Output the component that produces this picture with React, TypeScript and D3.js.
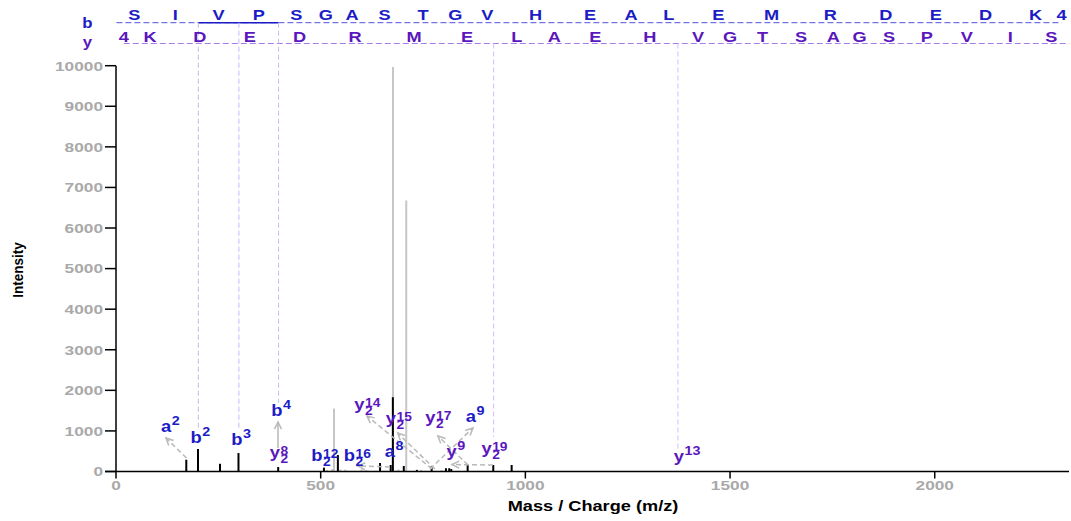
import React from "react";
import * as d3 from "d3";

// ---------- data ----------
const residues = ["S","I","V","P","S","G","A","S","T","G","V","H","E","A","L","E","M","R","D","E","D","K"];
const residueMass: Record<string, number> = {
  G: 57.02146, A: 71.03711, S: 87.03203, P: 97.05276, V: 99.06841, T: 101.04768,
  L: 113.08406, I: 113.08406, D: 115.02694, K: 128.09496, E: 129.04259,
  M: 131.04049, H: 137.05891, R: 156.10111,
};
const precursorCharge = "4";
const bObserved = [2, 3, 4];
const bGuideEnd = [1022, 1072, 1688];
const yObserved = [7, 11];
const yGuideEnd = [850, 554];

const xTicks = [0, 500, 1000, 1500, 2000];
const yTicks = [0, 1000, 2000, 3000, 4000, 5000, 6000, 7000, 8000, 9000, 10000];

// unannotated peaks (grey)
const greyMz = [515, 528, 532.5, 548, 560, 600, 612, 676.6, 690, 709, 745, 795];
const greyIntensity = [40, 60, 1550, 50, 45, 55, 35, 9970, 50, 6680, 40, 35];

// annotated peaks (black)
const blackMz = [171.7, 200.3, 254, 299.2, 396.2, 508, 542, 645, 671, 676.3, 703, 735, 771, 806, 814, 819, 859, 921.6, 966.5];
const blackIntensity = [290, 555, 190, 455, 110, 95, 405, 210, 160, 1830, 135, 40, 135, 80, 80, 60, 160, 160, 160];

// fragment labels
const labelIon = ["a","b","b","b","y","b","b","a","y","y","y","a","y","y","y"];
const labelSup = ["2","2","3","4","8","12","16","8","14","15","17","9","9","19","13"];
const labelSub = ["","","","","2","2","2","","2","2","2","","","2",""];
const labelMz = [135.1, 209.4, 308.9, 406.7, 400.6, 504.4, 583.8, 681.5, 607.0, 684.0, 780.4, 879.3, 832.2, 917.6, 1387.4];
const labelIntensity = [980, 697, 653, 1362, 342, 264, 264, 365, 1525, 1170, 1195, 1231, 355, 428, 234];

// label connectors
const arrowFromMz = [172.2, 395.7, 669.3, 771.9, 779, 859.8, 767, 921];
const arrowFromInt = [333, 579, 111, 62, 62, 160, 62, 160];
const arrowToMz = [122.1, 395.7, 591, 613, 688, 786.5, 872, 820.7];
const arrowToInt = [825, 1220, 136, 1367, 949, 875, 1072, 172];
const arrowDashed = [true, false, true, true, true, true, true, true];

// ---------- styling ----------
const FONT = "'Liberation Sans', Arial, Helvetica, sans-serif";
const B_COLOR = "#1c1cc6";
const Y_COLOR = "#5b17bd";
const ARROW = "#b9b9b9";

function SText(props: {
  x: number; y: number; sx?: number; size: number; anchor?: string; fill: string; children: any;
}) {
  const { x, y, sx = 1, size, anchor = "start", fill, children } = props;
  return (
    <text
      transform={`translate(${x},${y}) scale(${sx},1)`}
      fontSize={size}
      textAnchor={anchor as any}
      fill={fill}
      fontWeight="bold"
      fontFamily={FONT}
    >
      {children}
    </text>
  );
}

export default function App() {
  const W = 1071, H = 521;
  const x = d3.scaleLinear().domain([0, 2328]).range([116, 1069]);
  const y = d3.scaleLinear().domain([0, 10000]).range([471.5, 65.7]);
  const n = residues.length;

  const bIons: number[] = [1.00728];
  residues.forEach((r, i) => bIons.push(bIons[i] + residueMass[r]));
  const yIons: number[] = [19.01784];
  for (let j = 1; j <= n; j++) yIons.push(yIons[j - 1] + residueMass[residues[n - j]]);

  const bRowY = 22.7;
  const yRowY = 43.5;

  const arrowHead = (x1: number, y1: number, x2: number, y2: number) => {
    const a = Math.atan2(y2 - y1, x2 - x1);
    const L = 8, s = 0.45;
    const p1 = [x2 - L * Math.cos(a - s), y2 - L * Math.sin(a - s)];
    const p2 = [x2 - L * Math.cos(a + s), y2 - L * Math.sin(a + s)];
    return `M${p1[0]},${p1[1]}L${x2},${y2}L${p2[0]},${p2[1]}`;
  };

  return (
    <svg width={W} height={H} style={{ position: "absolute", left: 0, top: 0, background: "#fff" }}>
      {/* row labels */}
      <SText x={87.5} y={28} sx={1.2} size={14} anchor="middle" fill={B_COLOR}>b</SText>
      <SText x={87.5} y={47} sx={1.2} size={14} anchor="middle" fill={Y_COLOR}>y</SText>

      {/* sequence rows */}
      <line x1={x(bIons[0])} x2={x(bIons[n])} y1={bRowY} y2={bRowY} stroke="#5252dc" strokeWidth={1} strokeDasharray="6,3" />
      <line x1={x(yIons[0])} x2={x(yIons[n])} y1={yRowY} y2={yRowY} stroke="#a27ee6" strokeWidth={1} strokeDasharray="6,3" />
      {bObserved.slice(1).map((k, i) =>
        bObserved[i] === k - 1 ? (
          <line key={"bs" + k} x1={x(bIons[k - 1])} x2={x(bIons[k])} y1={bRowY} y2={bRowY} stroke={B_COLOR} strokeWidth={1.5} />
        ) : null
      )}
      {bObserved.map((k, i) => (
        <line key={"bg" + k} x1={x(bIons[k])} x2={x(bIons[k])} y1={bRowY} y2={y(bGuideEnd[i])} stroke="#bcbcff" strokeWidth={1} strokeDasharray="5,3" />
      ))}
      {yObserved.map((k, i) => (
        <line key={"yg" + k} x1={x(yIons[k])} x2={x(yIons[k])} y1={yRowY} y2={y(yGuideEnd[i])} stroke="#d6bcff" strokeWidth={1} strokeDasharray="5,3" />
      ))}
      {residues.map((r, i) => (
        <SText key={"br" + i} x={x((bIons[i] + bIons[i + 1]) / 2)} y={20} sx={1.3} size={14} anchor="middle" fill={B_COLOR}>{r}</SText>
      ))}
      <SText x={x(bIons[n])} y={20} sx={1.3} size={14} anchor="middle" fill={B_COLOR}>{precursorCharge}</SText>
      {residues.map((_, j) => (
        <SText key={"yr" + j} x={x((yIons[j] + yIons[j + 1]) / 2)} y={41.5} sx={1.3} size={14} anchor="middle" fill={Y_COLOR}>{residues[n - 1 - j]}</SText>
      ))}
      <SText x={x(yIons[0])} y={41.5} sx={1.3} size={14} anchor="middle" fill={Y_COLOR}>{precursorCharge}</SText>

      {/* peaks */}
      {greyMz.map((m, i) => (
        <line key={"g" + i} x1={x(m)} x2={x(m)} y1={y(0)} y2={y(greyIntensity[i])} stroke="#c6c6c6" strokeWidth={2} />
      ))}
      {blackMz.map((m, i) => (
        <line key={"k" + i} x1={x(m)} x2={x(m)} y1={y(0)} y2={y(blackIntensity[i])} stroke="#000" strokeWidth={2} />
      ))}

      {/* connectors */}
      {arrowFromMz.map((m, i) => {
        const x1 = x(m), y1 = y(arrowFromInt[i]), x2 = x(arrowToMz[i]), y2 = y(arrowToInt[i]);
        return (
          <g key={"a" + i} stroke={ARROW} strokeWidth={1.5} fill="none">
            <line x1={x1} y1={y1} x2={x2} y2={y2} strokeDasharray={arrowDashed[i] ? "5,3" : undefined} />
            <path d={arrowHead(x1, y1, x2, y2)} />
          </g>
        );
      })}

      {/* axes */}
      <line x1={116} x2={116} y1={y(10000)} y2={y(0)} stroke="#000" strokeWidth={1.5} />
      <line x1={105} x2={x(2328)} y1={y(0)} y2={y(0)} stroke="#000" strokeWidth={1.5} />
      {yTicks.map((t) => (
        <g key={"yt" + t}>
          <line x1={105} x2={116} y1={y(t)} y2={y(t)} stroke="#000" strokeWidth={1.5} />
          <SText x={103} y={y(t) + 4.8} sx={1.28} size={13.5} anchor="end" fill="#a9a9a9">{String(t)}</SText>
        </g>
      ))}
      {xTicks.map((t) => (
        <g key={"xt" + t}>
          <line x1={x(t)} x2={x(t)} y1={y(0)} y2={y(0) + 7} stroke="#000" strokeWidth={1.5} />
          <SText x={x(t)} y={490} sx={1.28} size={13.5} anchor="middle" fill="#a9a9a9">{String(t)}</SText>
        </g>
      ))}
      <SText x={593} y={511} sx={1.3} size={14} anchor="middle" fill="#000">Mass / Charge (m/z)</SText>
      <text transform="translate(23,270) scale(1.1,1) rotate(-90)" fontSize={13.5} textAnchor="middle" fontWeight="bold" fontFamily={FONT} fill="#000">Intensity</text>

      {/* fragment labels */}
      {labelIon.map((ion, i) => {
        const jx = x(labelMz[i]);
        const by = y(labelIntensity[i]);
        const col = ion === "y" ? Y_COLOR : B_COLOR;
        const stacked = labelSub[i] !== "";
        return (
          <g key={"l" + i}>
            <SText x={jx} y={by} sx={1.15} size={16} anchor="end" fill={col}>{ion}</SText>
            <SText x={jx + 0.5} y={by - (stacked ? 3 : 7)} sx={1.15} size={stacked ? 12 : 12.5} anchor="start" fill={col}>{labelSup[i]}</SText>
            {stacked ? (
              <SText x={jx + 0.5} y={by + 5} sx={1.15} size={12} anchor="start" fill={col}>{labelSub[i]}</SText>
            ) : null}
          </g>
        );
      })}
    </svg>
  );
}
